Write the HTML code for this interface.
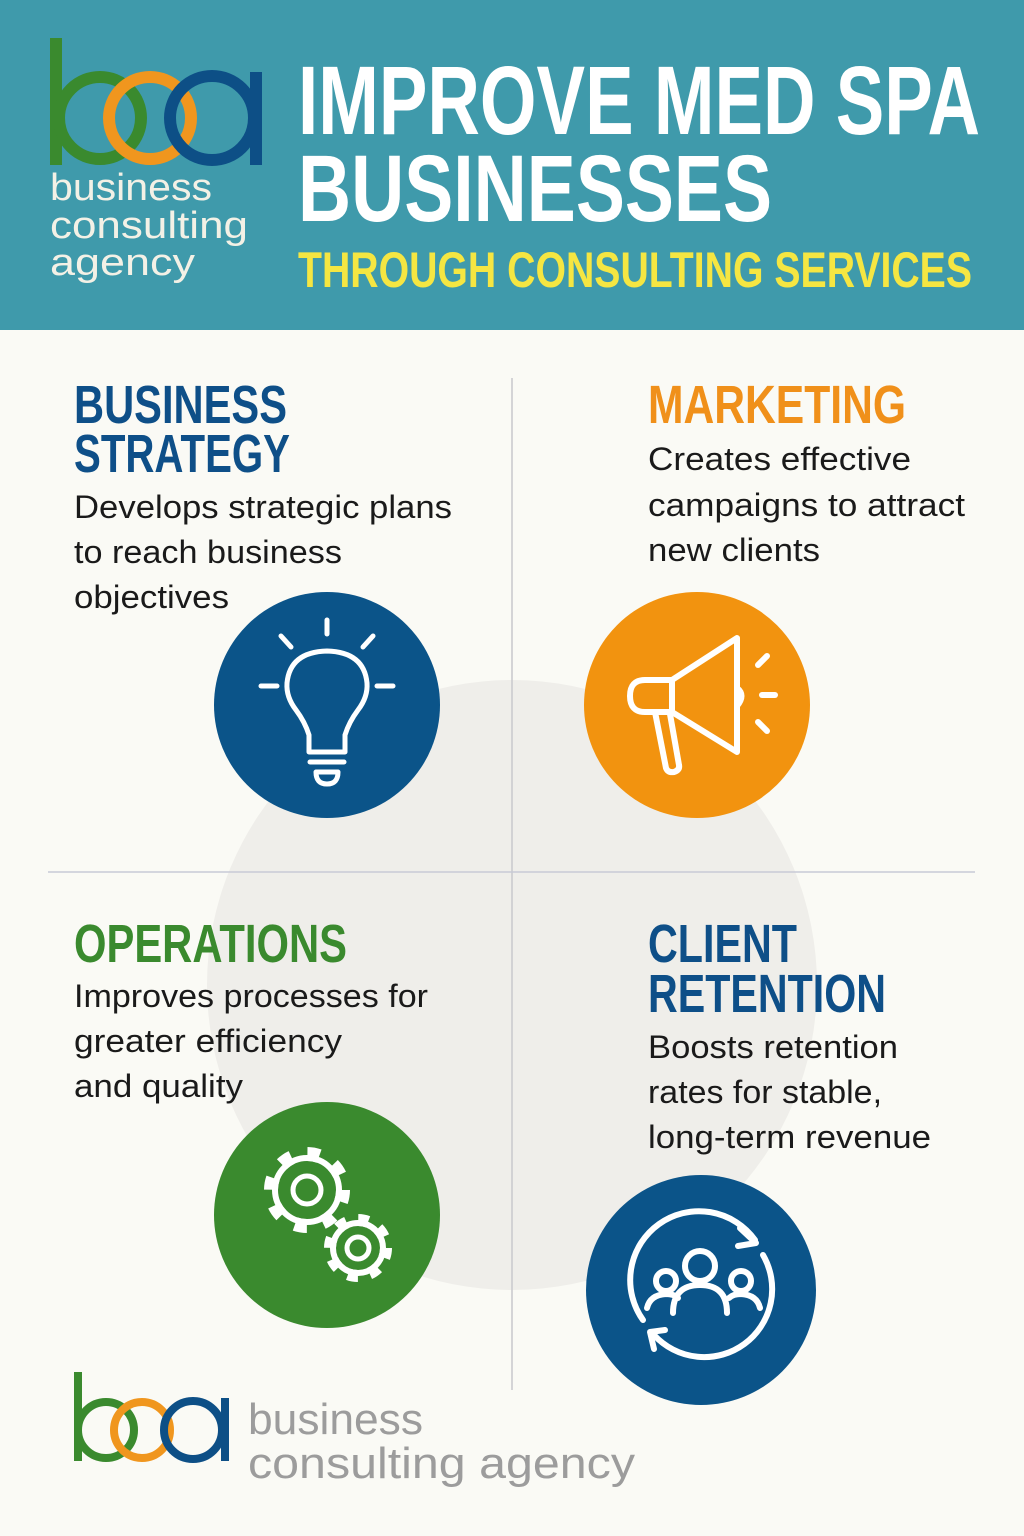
<!DOCTYPE html>
<html><head><meta charset="utf-8"><style>
html,body{margin:0;padding:0;background:#fafaf5;}
svg{display:block}
</style></head><body>
<svg width="1024" height="1536" viewBox="0 0 1024 1536" xmlns="http://www.w3.org/2000/svg">
<rect width="1024" height="1536" fill="#fafaf5"/>
<rect width="1024" height="330" fill="#3f9aab"/>
<!-- top logo -->
<g fill="none" stroke-width="12">
<line x1="56" y1="38" x2="56" y2="165" stroke="#3a8a2e"/>
<circle cx="100" cy="118" r="41" stroke="#3a8a2e"/>
<circle cx="150" cy="118" r="41" stroke="#f0961e"/>
<circle cx="212" cy="118" r="42" stroke="#0d4f86"/>
<line x1="256" y1="72" x2="256" y2="165" stroke="#0d4f86"/>
</g>
<g font-family="Liberation Sans, sans-serif" fill="#f3f1e6" font-size="38">
<text x="50" y="200" textLength="162" lengthAdjust="spacingAndGlyphs">business</text>
<text x="50" y="238" textLength="198" lengthAdjust="spacingAndGlyphs">consulting</text>
<text x="50" y="275" textLength="145" lengthAdjust="spacingAndGlyphs">agency</text>
</g>
<g font-family="Liberation Sans, sans-serif" font-weight="bold">
<text x="298" y="134" font-size="97" fill="#fff" textLength="682" lengthAdjust="spacingAndGlyphs">IMPROVE MED SPA</text>
<text x="298" y="221" font-size="95" fill="#fff" textLength="474" lengthAdjust="spacingAndGlyphs">BUSINESSES</text>
<text x="298" y="287" font-size="50" fill="#f5e642" textLength="674" lengthAdjust="spacingAndGlyphs">THROUGH CONSULTING SERVICES</text>
</g>
<circle cx="512" cy="985" r="305" fill="#efeeea"/>
<line x1="512" y1="378" x2="512" y2="1390" stroke="#c8c8cc" stroke-width="1.5"/>
<line x1="48" y1="872" x2="975" y2="872" stroke="#c8cad6" stroke-width="1.5"/>
<g font-family="Liberation Sans, sans-serif" font-weight="bold" font-size="54">
<text x="74" y="423" fill="#0e4f88" textLength="213" lengthAdjust="spacingAndGlyphs">BUSINESS</text>
<text x="74" y="472" fill="#0e4f88" textLength="216" lengthAdjust="spacingAndGlyphs">STRATEGY</text>
<text x="648" y="423" fill="#f0901a" textLength="258" lengthAdjust="spacingAndGlyphs">MARKETING</text>
<text x="74" y="962" fill="#3a8a2e" textLength="273" lengthAdjust="spacingAndGlyphs">OPERATIONS</text>
<text x="648" y="962" fill="#0e4f88" textLength="149" lengthAdjust="spacingAndGlyphs">CLIENT</text>
<text x="648" y="1012" fill="#0e4f88" textLength="238" lengthAdjust="spacingAndGlyphs">RETENTION</text>
</g>
<g font-family="Liberation Sans, sans-serif" font-size="32" fill="#1a1a1a">
<text x="74" y="518" textLength="378" lengthAdjust="spacingAndGlyphs">Develops strategic plans</text>
<text x="74" y="563" textLength="268" lengthAdjust="spacingAndGlyphs">to reach business</text>
<text x="74" y="608" textLength="155" lengthAdjust="spacingAndGlyphs">objectives</text>
<text x="648" y="470" textLength="263" lengthAdjust="spacingAndGlyphs">Creates effective</text>
<text x="648" y="516" textLength="317" lengthAdjust="spacingAndGlyphs">campaigns to attract</text>
<text x="648" y="561" textLength="172" lengthAdjust="spacingAndGlyphs">new clients</text>
<text x="74" y="1007" textLength="354" lengthAdjust="spacingAndGlyphs">Improves processes for</text>
<text x="74" y="1052" textLength="268" lengthAdjust="spacingAndGlyphs">greater efficiency</text>
<text x="74" y="1097" textLength="169" lengthAdjust="spacingAndGlyphs">and quality</text>
<text x="648" y="1058" textLength="250" lengthAdjust="spacingAndGlyphs">Boosts retention</text>
<text x="648" y="1103" textLength="234" lengthAdjust="spacingAndGlyphs">rates for stable,</text>
<text x="648" y="1148" textLength="283" lengthAdjust="spacingAndGlyphs">long-term revenue</text>
</g>
<!-- icon circles -->
<circle cx="327" cy="705" r="113" fill="#0b5489"/>
<circle cx="697" cy="705" r="113" fill="#f2930f"/>
<circle cx="327" cy="1215" r="113" fill="#3a8a2e"/>
<circle cx="701" cy="1290" r="115" fill="#0b5489"/>
<!-- bulb -->
<g fill="none" stroke="#fff" stroke-width="5" stroke-linecap="round" stroke-linejoin="round">
<line x1="327" y1="620" x2="327" y2="634"/>
<line x1="281" y1="636" x2="291" y2="647"/>
<line x1="373" y1="636" x2="363" y2="647"/>
<line x1="261" y1="686" x2="277" y2="686"/>
<line x1="377" y1="686" x2="393" y2="686"/>
<path d="M309 752 L309 735 Q305 722 296 710 Q286 697 287 683 Q290 652 327 651 Q364 652 367 683 Q368 697 358 710 Q349 722 345 735 L345 752 Z"/>
<line x1="310" y1="762" x2="344" y2="762"/>
<path d="M316 772 L338 772 Q338 784 327 784 Q316 784 316 772 Z"/>
</g>
<!-- megaphone -->
<g fill="none" stroke="#fff" stroke-width="6" stroke-linecap="round" stroke-linejoin="round">
<path d="M672 680 L737 638 L737 752 L672 712 Z"/>
<path d="M672 680 L645 680 Q630 680 630 696 Q630 712 645 712 L672 712"/>
<path d="M655 712 L666 768 Q668 773 674 772 Q680 770 679 765 L670 714"/>
<path d="M737 688 Q746 695 737 706"/>
<line x1="758" y1="665" x2="767" y2="656"/>
<line x1="762" y1="695" x2="775" y2="695"/>
<line x1="758" y1="722" x2="767" y2="731"/>
</g>
<!-- gears -->
<g fill="none" stroke="#fff">
<circle cx="307" cy="1190" r="36" stroke-width="14" stroke-dasharray="12 16.3"/>
<circle cx="307" cy="1190" r="32" stroke-width="6"/>
<circle cx="307" cy="1190" r="14" stroke-width="5"/>
<circle cx="358" cy="1248" r="28" stroke-width="12" stroke-dasharray="10 12"/>
<circle cx="358" cy="1248" r="25" stroke-width="6"/>
<circle cx="358" cy="1248" r="11" stroke-width="5"/>
</g>
<!-- retention -->
<g fill="none" stroke="#fff" stroke-width="6" stroke-linecap="round" stroke-linejoin="round">
<path d="M643 1320 A68 68 0 0 1 755 1240"/>
<path d="M763 1255 A68 68 0 0 1 654 1335"/>
<path d="M740 1228 L756 1243 L738 1246"/>
<path d="M665 1330 L650 1332 L654 1349"/>
<circle cx="700" cy="1266" r="15"/>
<path d="M673 1313 Q673 1285 700 1285 Q727 1285 727 1313"/>
<circle cx="666" cy="1281" r="10"/>
<path d="M647 1308 Q650 1295 666 1294 Q674 1294 678 1298"/>
<circle cx="741" cy="1281" r="10"/>
<path d="M760 1308 Q757 1295 741 1294 Q733 1294 729 1298"/>
</g>
<!-- bottom logo -->
<g fill="none" stroke-width="8">
<line x1="78" y1="1372" x2="78" y2="1461" stroke="#3a8a2e"/>
<circle cx="106" cy="1430" r="28" stroke="#3a8a2e"/>
<circle cx="142" cy="1430" r="28" stroke="#f0961e"/>
<circle cx="193" cy="1430" r="29" stroke="#0d4f86"/>
<line x1="225" y1="1398" x2="225" y2="1461" stroke="#0d4f86"/>
</g>
<g font-family="Liberation Sans, sans-serif" fill="#9c9c9c" font-size="44">
<text x="248" y="1434" textLength="175" lengthAdjust="spacingAndGlyphs">business</text>
<text x="248" y="1478" textLength="387" lengthAdjust="spacingAndGlyphs">consulting agency</text>
</g>
</svg>
</body></html>
